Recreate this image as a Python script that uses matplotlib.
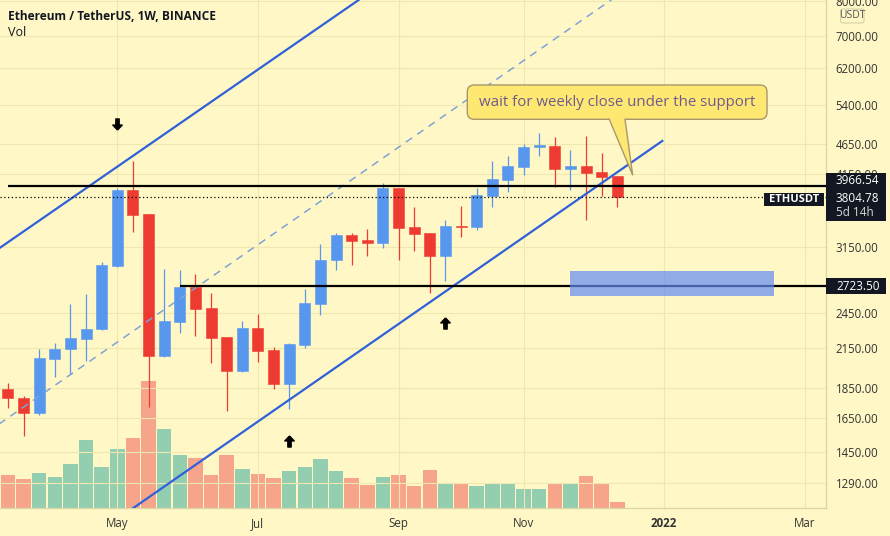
import numpy as np
import matplotlib
matplotlib.use("Agg")
import matplotlib.pyplot as plt
from matplotlib.patches import Rectangle, FancyBboxPatch, Polygon
from matplotlib.path import Path
from matplotlib.transforms import Affine2D
from matplotlib.ticker import NullLocator

W, H = 890, 536
BG = "#FFF8C6"

# ETHUSDT weekly candles (Binance), week 0 = week of 3 May 2021
week = np.arange(-7, 33)
opens = np.array([1840, 1782, 1680, 2066, 2140, 2228, 2308, 2936, 3909, 3566,
                  2089, 2376, 2711, 2499, 2240, 1974, 2319, 2134, 1879, 2175,
                  2543, 2994, 3294, 3235, 3203, 3939, 3395, 3319, 3050, 3412,
                  3403, 3822, 4060, 4270, 4594, 4617, 4233, 4281, 4185, 4122])
highs = np.array([1882, 1794, 2140, 2195, 2540, 2638, 2974, 3935, 4368, 3570,
                  2897, 2889, 2845, 2645, 2245, 2382, 2443, 2156, 2195, 2685,
                  3187, 3318, 3318, 3374, 4019, 3945, 3670, 3325, 3490, 3680,
                  3935, 4368, 4450, 4650, 4856, 4771, 4548, 4795, 4492, 4122])
lows = np.array([1712, 1542, 1670, 1930, 1950, 2050, 2300, 2920, 3339, 1722,
                 2080, 2274, 2251, 2035, 1697, 1960, 2042, 1840, 1706, 2150,
                 2436, 2889, 2944, 3046, 3143, 3000, 3107, 2645, 2771, 3270,
                 3360, 3670, 3884, 4138, 4450, 3959, 3909, 3490, 3822, 3670])
closes = np.array([1778, 1680, 2071, 2143, 2231, 2311, 2944, 3909, 3560, 2089,
                   2382, 2709, 2495, 2237, 1974, 2319, 2129, 1879, 2184, 2550,
                   3000, 3297, 3227, 3203, 3939, 3390, 3314, 3050, 3412, 3399,
                   3836, 4071, 4281, 4594, 4629, 4233, 4276, 4174, 4112, 3804.78])
volume = np.array([3.3, 2.9, 3.5, 3.1, 4.4, 6.8, 4.1, 5.9, 7.0, 12.7,
                   7.9, 5.3, 5.0, 3.3, 5.3, 3.9, 3.4, 3.0, 3.7, 4.1,
                   4.9, 3.7, 3.0, 2.3, 3.1, 3.3, 2.2, 3.8, 2.5, 2.5,
                   2.2, 2.4, 2.5, 1.9, 1.9, 2.4, 2.4, 3.2, 2.4, 0.6])

price_ticks = [1290, 1450, 1650, 1850, 2150, 2450, 3150, 4150, 4650, 5400,
               6200, 7000, 8000]
month_pos = [0, 9, 18, 26, 35, 44]
month_lbl = ["May", "Jul", "Sep", "Nov", "2022", "Mar"]

# drawings on the chart
resistance = 3966.54
support = 2723.50
last_price = 3804.78
upper_chan = [(-7.5, 3143), (4.33, 5095)]
lower_chan = [(0.99, 1172), (34.88, 4706)]
mid_chan = [(-7.5, 1617), (31.6, 8021)]
zone = (28.96, 42.03, 2621, 2878)
down_arrows = [(0, 5017)]
up_arrows = [(11, 1513), (21, 2364)]
note = "wait for weekly close under the support"
note_tip = (32.98, 4138)

UP, DOWN = "#5897EE", "#EE3B32"
plt.rcParams["font.family"] = ["Open Sans", "DejaVu Sans"]


def trend(pts, x0, x1):
    (xa, pa), (xb, pb) = pts
    k = (np.log(pb) - np.log(pa)) / (xb - xa)
    xs = np.array([x0, x1])
    return xs, pa * np.exp(k * (xs - xa))


fig = plt.figure(figsize=(W / 100, H / 100), dpi=100, facecolor=BG)
rect = [0, 27.7 / H, 826 / W, 508.3 / H]
axv = fig.add_axes(rect, facecolor=BG)
ax = fig.add_axes(rect, sharex=axv)
ax.set_facecolor("none")
pix = Affine2D().scale(1 / W, -1 / H).translate(0, 1) + fig.transFigure

# volume (overlay, bottom)
up = closes >= opens
axv.bar(week, volume, width=0.93, color=np.where(up, "#26a69a", "#ef5350"),
        alpha=0.5, linewidth=0)
axv.set_ylim(0, 50.83)
axv.tick_params(left=False, right=False, bottom=False, labelleft=False,
                labelbottom=False)
for s in axv.spines.values():
    s.set_visible(False)

# candles
cols = np.where(up, UP, DOWN)
ax.vlines(week, lows, highs, colors=cols, lw=0.9, zorder=3)
ax.bar(week, np.abs(closes - opens), bottom=np.minimum(opens, closes),
       width=0.7, color=cols, edgecolor=cols, linewidth=0.4, zorder=4)

ax.set_yscale("log")
ax.set_ylim(1172.4, 8021)
ax.set_xlim(-7.507, 45.355)

# trend channel
xs, ys = trend(upper_chan, -8, 16)
ax.plot(xs, ys, color="#3060DA", lw=1.6, zorder=5)
xs, ys = trend(lower_chan, 0.5, 34.88)
ax.plot(xs, ys, color="#3060DA", lw=1.6, zorder=5)
xs, ys = trend(mid_chan, -8, 32)
ax.plot(xs, ys, color="#7FA3D6", lw=1.1, ls=(0, (5, 4)), zorder=5)

# levels
ax.hlines(resistance, -7, 46, color="black", lw=1.6, zorder=5)
ax.hlines(support, 4, 46, color="black", lw=1.6, zorder=5)
ax.axhline(last_price, color="black", lw=0.9, ls=(0, (1, 2)), zorder=5)
ax.add_patch(Rectangle((zone[0], zone[2]), zone[1] - zone[0], zone[3] - zone[2],
                       facecolor="#628BF4", alpha=0.7, lw=0, zorder=6))

# arrow markers
arrow_up = Path([(0, 1), (0.85, 0.1), (0.3, 0.1), (0.3, -1), (-0.3, -1),
                 (-0.3, 0.1), (-0.85, 0.1), (0, 1)])
arrow_dn = Path([(x, -y) for x, y in arrow_up.vertices])
for i, p in up_arrows:
    ax.plot(i, p, marker=arrow_up, ms=8, color="black", zorder=7)
for i, p in down_arrows:
    ax.plot(i, p, marker=arrow_dn, ms=8, color="black", zorder=7)

# axes styling
ax.yaxis.tick_right()
ax.set_yticks(price_ticks)
ax.set_yticklabels([f"{t:.2f}" for t in price_ticks])
ax.yaxis.set_minor_locator(NullLocator())
ax.set_xticks(month_pos)
ax.set_xticklabels(month_lbl)
ax.get_xticklabels()[4].set_fontweight("bold")
ax.tick_params(axis="both", length=0, labelsize=8.3, labelcolor="#333333")
ax.tick_params(axis="y", pad=7)
ax.tick_params(axis="x", pad=6)
ax.grid(True, color="#EFE7B2", lw=0.8, zorder=0)
for k in ("top", "left"):
    ax.spines[k].set_visible(False)
for k in ("right", "bottom"):
    ax.spines[k].set_color("#DDD6A8")
    ax.spines[k].set_linewidth(1)

# callout
tx, ty = ax.transData.transform(note_tip)
tip = (tx, H - ty)
box = FancyBboxPatch((467.3, 85), 299.7, 34.3,
                     boxstyle="round,pad=0,rounding_size=7",
                     facecolor="#FFE872", edgecolor="#A8976A", lw=1,
                     transform=pix, zorder=9, clip_on=False)
fig.add_artist(box)
fig.add_artist(Polygon([(609.3, 117.5), (625, 117.5), tip], closed=True,
                       facecolor="#FFE872", edgecolor="none", transform=pix,
                       zorder=10))
fig.add_artist(plt.Line2D([609.3, tip[0], 625], [119.3, tip[1], 119.3],
                          color="#A8976A", lw=1, transform=pix, zorder=10))
fig.text(617, 102, note, transform=pix, ha="center", va="center",
         fontsize=10.8, color="#6F5A8E", zorder=11)

# header
fig.text(8, 17, "Ethereum / TetherUS, 1W, BINANCE", transform=pix,
         ha="left", va="center", fontsize=8.6, fontweight="bold",
         color="#131722")
fig.text(8, 33, "Vol", transform=pix, ha="left", va="center", fontsize=9,
         color="#131722")

# price tags on the scale
fig.add_artist(Rectangle((826, 173.3), 59.7, 47.7, facecolor="#131722",
                         lw=0, transform=pix, zorder=12))
fig.text(836, 181, f"{resistance:.2f}", transform=pix, va="center",
         fontsize=8.5, color="white", zorder=13)
fig.text(836, 198.3, f"{last_price:.2f}", transform=pix, va="center",
         fontsize=8.5, color="white", zorder=13)
fig.text(836, 212.7, "5d 14h", transform=pix, va="center", fontsize=8.5,
         color="#D8D8D8", zorder=13)
fig.add_artist(Rectangle((826, 278.3), 59.7, 16, facecolor="#131722", lw=0,
                         transform=pix, zorder=12))
fig.text(836, 286.5, f"{support:.2f}", transform=pix, va="center",
         fontsize=8.5, color="white", zorder=13)
fig.add_artist(Rectangle((764, 192.7), 60.3, 13, facecolor="#131722", lw=0,
                         transform=pix, zorder=12))
fig.text(794, 199.3, "ETHUSDT", transform=pix, ha="center", va="center",
         fontsize=8, fontweight="bold", color="white", zorder=13)
fig.add_artist(FancyBboxPatch((840.7, 9), 23.3, 14,
                              boxstyle="round,pad=0,rounding_size=2",
                              facecolor=BG, edgecolor="#D5CFA5", lw=0.8,
                              transform=pix, zorder=12))
fig.text(852.3, 16, "USDT", transform=pix, ha="center", va="center",
         fontsize=7.5, color="#555555", zorder=13)

fig.savefig("out.png", dpi=100, facecolor=BG)
